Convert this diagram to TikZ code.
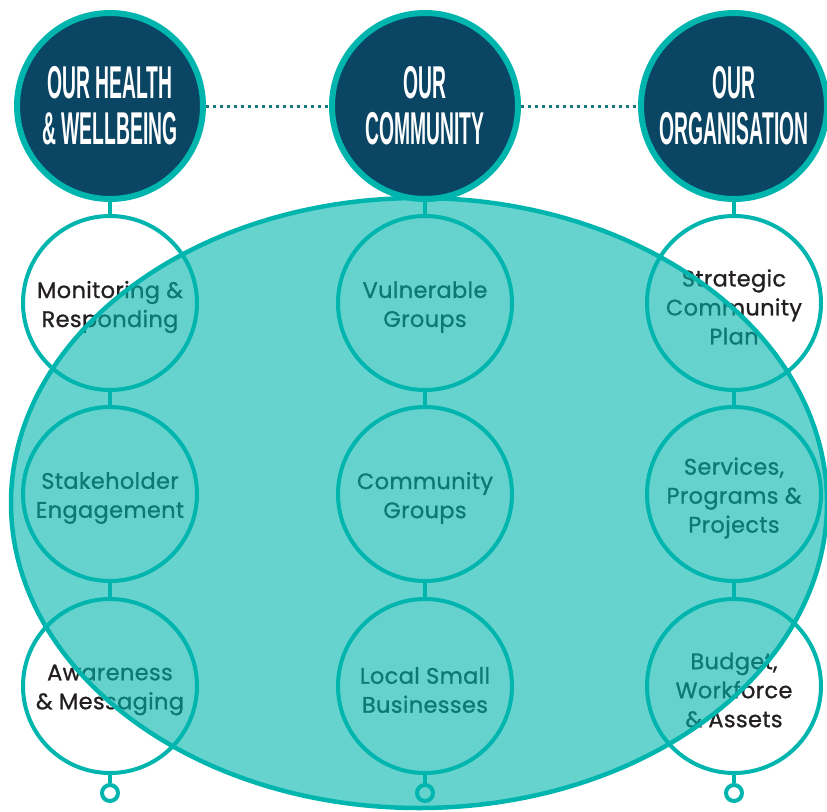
\documentclass[tikz,border=0pt]{standalone}
\usepackage{fontspec}
\usetikzlibrary{backgrounds}
\setmainfont{Poppins}[FakeBold=0.9,LetterSpace=1.5]
\newfontfamily\titlefont[FakeStretch=0.42]{Liberation Sans}
\definecolor{tealA}{RGB}{0,181,173}
\definecolor{navyA}{RGB}{11,69,100}
\definecolor{dotA}{RGB}{22,120,125}
\definecolor{txtA}{RGB}{35,31,32}
\tikzset{
  topc/.style={circle, draw=tealA, line width=6pt, fill=navyA, minimum size=186pt, inner sep=0pt,
    text=white, font=\titlefont\bfseries\fontsize{46}{46}\selectfont, align=center},
  subc/.style={circle, draw=tealA, line width=4pt, fill=white, minimum size=174pt, inner sep=0pt},
  subt/.style={text=txtA, font=\fontsize{22.5}{29}\selectfont, align=center, inner sep=0pt, yshift=-4pt},
  endc/.style={circle, draw=tealA, line width=4pt, fill=white, minimum size=16pt, inner sep=0pt},
  link/.style={draw=tealA, line width=4pt},
  dotlink/.style={draw=dotA, line width=3pt, dash pattern=on 3pt off 4pt},
  bigell/.style={draw=tealA, line width=4.5pt, fill=tealA, fill opacity=0.6}
}
\begin{document}
\begin{tikzpicture}[x=1pt,y=-1pt]
\useasboundingbox (0,0) rectangle (827,811);
% top circles
\node[topc] (h1) at (110,106) {OUR HEALTH\\\& WELLBEING};
\node[topc] (h2) at (425,106) {OUR\\COMMUNITY};
\node[topc] (h3) at (734,106) {OUR\\ORGANISATION};
% sub circles
\node[subc, label={[subt]center:{Monitoring \&\\Responding}}] (a1) at (110,303) {};
\node[subc, label={[subt]center:{Stakeholder\\Engagement}}] (b1) at (110,494) {};
\node[subc, label={[subt]center:{Awareness\\\& Messaging}}] (c1) at (110,686) {};
\node[subc, label={[subt]center:{Vulnerable\\Groups}}] (a2) at (425,303) {};
\node[subc, label={[subt]center:{Community\\Groups}}] (b2) at (425,494) {};
\node[subc, label={[subt]center:{Local Small\\Businesses}}] (c2) at (425,686) {};
\node[subc, label={[subt]center:{Strategic\\Community\\Plan}}] (a3) at (734,303) {};
\node[subc, label={[subt]center:{Services,\\Programs \&\\Projects}}] (b3) at (734,494) {};
\node[subc, label={[subt]center:{Budget,\\Workforce\\\& Assets}}] (c3) at (734,686) {};
\node[endc] (d1) at (110,793) {};
\node[endc] (d2) at (425,793) {};
\node[endc] (d3) at (734,793) {};
\begin{scope}[on background layer]
\foreach \i in {1,2,3}{
  \draw[link] (h\i) -- (a\i);
  \draw[link] (a\i) -- (b\i);
  \draw[link] (b\i) -- (c\i);
  \draw[link] (c\i) -- (d\i);
}
\end{scope}
\draw[dotlink] (h1.east) -- (h2.west);
\draw[dotlink] (h2.east) -- (h3.west);
% big translucent ellipse
\draw[bigell] (419,503) ellipse [x radius=408pt, y radius=305pt];
\end{tikzpicture}
\end{document}
